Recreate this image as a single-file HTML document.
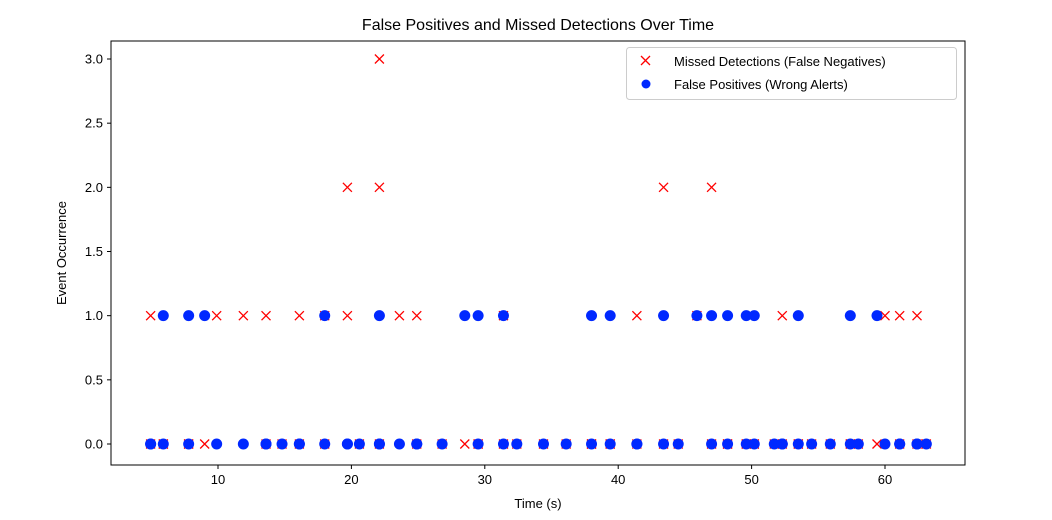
<!DOCTYPE html>
<html><head><meta charset="utf-8"><style>
body{margin:0;background:#fff;}
svg{display:block;font-family:"Liberation Sans","DejaVu Sans",sans-serif;}
</style></head><body>
<svg id="chart" width="1052" height="520">
<text x="538" y="30" text-anchor="middle" font-size="16" fill="#000">False Positives and Missed Detections Over Time</text>
<g id="marks"></g>
<rect x="111" y="41" width="854" height="424" fill="none" stroke="#000" stroke-width="1"/>
<g id="xt"></g>
<g id="yt"></g>
<text x="538" y="508" text-anchor="middle" font-size="13">Time (s)</text>
<text x="66" y="253" text-anchor="middle" font-size="13" transform="rotate(-90 66 253)">Event Occurrence</text>
<g>
<rect x="626.5" y="47.5" width="330" height="52" rx="3" fill="#fff" fill-opacity="0.8" stroke="#ccc"/>
<g>
<path d="M641 56 l9 9 M650 56 l-9 9" stroke="#ff0000" stroke-width="1.3"/>
<text x="674" y="66" font-size="13">Missed Detections (False Negatives)</text></g>
<g>
<circle cx="646" cy="84" r="4.5" fill="#0028ff"/>
<text x="674" y="89" font-size="13">False Positives (Wrong Alerts)</text></g>
</g>
</svg>
<script>
const times=[4.95,4.95,5.9,5.9,7.8,7.8,9.0,9.9,11.9,13.6,13.6,14.8,16.1,16.1,18.0,18.0,19.7,19.7,20.6,22.1,22.1,22.1,23.6,24.9,24.9,26.8,28.5,29.5,29.5,31.4,31.4,32.4,34.4,36.1,38.0,38.0,39.4,39.4,41.4,41.4,43.4,43.4,44.5,45.9,47.0,47.0,48.2,48.2,49.6,49.6,50.2,50.2,51.7,52.3,52.3,53.5,53.5,54.5,55.9,57.4,57.4,58.0,59.4,60.0,61.1,61.1,62.4,62.4,63.1];
const missed=[1,0,0,0,0,0,0,1,1,1,0,0,1,0,1,0,1,2,0,3,2,0,1,1,0,0,0,0,0,1,0,0,0,0,0,0,0,0,1,0,2,0,0,1,2,0,0,0,0,0,0,0,0,1,0,0,0,0,0,0,0,0,0,1,1,0,1,0,0];
const falsePos=[0,0,1,0,1,0,1,0,0,0,0,0,0,0,1,0,0,0,0,1,0,0,0,0,0,0,1,1,0,1,0,0,0,0,1,0,1,0,0,0,1,0,0,1,1,0,1,0,1,0,1,0,0,0,0,1,0,0,0,1,0,0,1,0,0,0,0,0,0];
const xTicks=[10,20,30,40,50,60];
const yTicks=[0,0.5,1,1.5,2,2.5,3];
const xs=v=>84.6+v*13.34;
const ys=v=>444-v*128.33;
const NS='http://www.w3.org/2000/svg';
const marks=document.getElementById('marks');
for(let i=0;i<times.length;i++){
  const p=document.createElementNS(NS,'path');
  const x=xs(times[i]),y=ys(missed[i]);
  p.setAttribute('d',`M${x-4.5} ${y-4.5}l9 9M${x+4.5} ${y-4.5}l-9 9`);
  p.setAttribute('stroke','#ff0000');p.setAttribute('stroke-width','1.3');
  
  
  marks.appendChild(p);
}
for(let i=0;i<times.length;i++){
  const c=document.createElementNS(NS,'circle');
  c.setAttribute('cx',xs(times[i]));c.setAttribute('cy',ys(falsePos[i]));c.setAttribute('r','5.5');c.setAttribute('fill','#0028ff');
  
  
  marks.appendChild(c);
}
const xt=document.getElementById('xt');
xTicks.forEach(t=>{
  const g=document.createElementNS(NS,'g');
  
  
  g.innerHTML=`<line x1="${xs(t)}" x2="${xs(t)}" y1="465" y2="469" stroke="#000"/><text x="${xs(t)}" y="484" text-anchor="middle" font-size="13">${t}</text>`;
  xt.appendChild(g);
});
const yt=document.getElementById('yt');
yTicks.forEach(t=>{
  const g=document.createElementNS(NS,'g');
  
  
  g.innerHTML=`<line x1="107" x2="111" y1="${ys(t)}" y2="${ys(t)}" stroke="#000"/><text x="103" y="${ys(t)+4.5}" text-anchor="end" font-size="13">${t.toFixed(1)}</text>`;
  yt.appendChild(g);
});
</script>
</body></html>
